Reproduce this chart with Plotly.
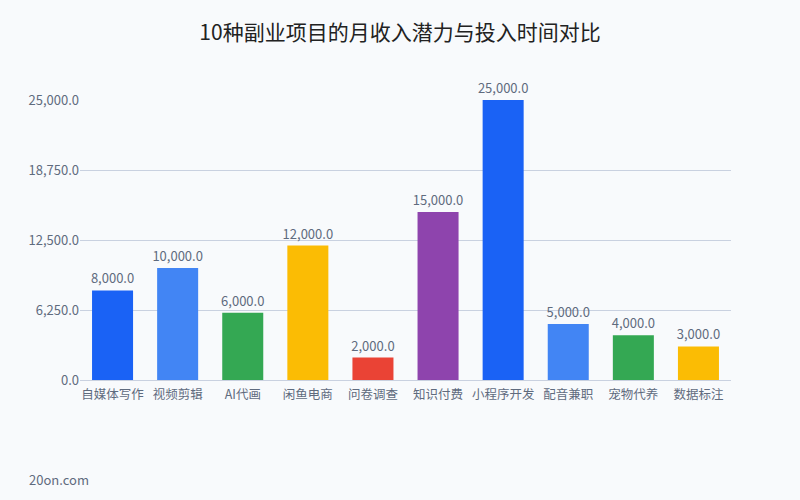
import plotly.graph_objects as go

categories = ["自媒体写作", "视频剪辑", "AI代画", "闲鱼电商", "问卷调查", "知识付费", "小程序开发", "配音兼职", "宠物代养", "数据标注"]
income = [8000, 10000, 6000, 12000, 2000, 15000, 25000, 5000, 4000, 3000]
colors = ["#1a62f5", "#4285f4", "#34a853", "#fbbc04", "#ea4335", "#8e44ad", "#1a62f5", "#4285f4", "#34a853", "#fbbc04"]
y_ticks = [0, 6250, 12500, 18750, 25000]

font_family = "Noto Sans CJK SC, Noto Sans, sans-serif"
tick_color = "#5f6b7e"
grid_color = "#c9d1e0"

fig = go.Figure(go.Bar(
    x=categories,
    y=income,
    marker=dict(color=colors, line=dict(width=0)),
    text=[f"{v:,.1f}" for v in income],
    textposition="outside",
    constraintext="none",
    textfont=dict(size=13, color=tick_color, family=font_family),
    cliponaxis=False,
    hoverinfo="x+y",
))

fig.update_layout(
    width=800, height=500,
    paper_bgcolor="#f8fafc",
    plot_bgcolor="#f8fafc",
    margin=dict(l=80, r=69, t=100, b=120),
    bargap=0.37,
    showlegend=False,
    font=dict(family=font_family, size=13, color=tick_color),
    title=dict(
        text="10种副业项目的月收入潜力与投入时间对比",
        x=0.5, xanchor="center", y=0.935, yanchor="middle",
        font=dict(size=21, color="#222222", family=font_family),
    ),
    xaxis=dict(
        showgrid=False,
        showline=True, linecolor=grid_color, linewidth=1,
        ticks="", tickangle=0, ticklabelstandoff=3,
        tickfont=dict(size=12.5, color=tick_color),
    ),
    yaxis=dict(
        range=[0, 25000],
        tickvals=y_ticks,
        tickformat=",.1f",
        showgrid=True, gridcolor=grid_color, gridwidth=1,
        zeroline=False, showline=False, ticks="",
        tickfont=dict(size=13, color=tick_color),
    ),
    annotations=[dict(
        text="20on.com", xref="paper", yref="paper",
        x=-0.082, y=-0.357, xanchor="left", yanchor="middle",
        showarrow=False, font=dict(size=13, color="#5f6b7e", family=font_family),
    )],
)

fig.write_html("out.html")
